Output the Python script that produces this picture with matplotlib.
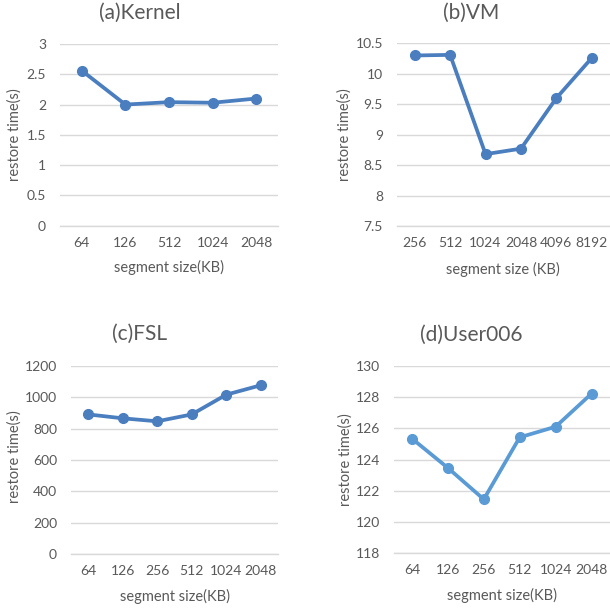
import matplotlib.pyplot as plt

# === DATA ===
kernel_sizes = ["64", "126", "512", "1024", "2048"]
kernel_times = [2.56, 2.00, 2.04, 2.03, 2.10]

vm_sizes = ["256", "512", "1024", "2048", "4096", "8192"]
vm_times = [10.30, 10.31, 8.68, 8.77, 9.60, 10.26]

fsl_sizes = ["64", "126", "256", "512", "1024", "2048"]
fsl_times = [891, 866, 847, 891, 1017, 1077]

user_sizes = ["64", "126", "256", "512", "1024", "2048"]
user_times = [125.35, 123.47, 121.46, 125.43, 126.11, 128.23]

plt.rcParams['font.family'] = ['Lato', 'DejaVu Sans']

W, H = 610, 609
fig = plt.figure(figsize=(W / 100, H / 100), dpi=100)

TXT = "#595959"
GRID = "#d9d9d9"

# pixel boxes: left, right, top, bottom of the plot area
panels = [
    dict(box=(60, 278, 44, 225.7), sizes=kernel_sizes, vals=kernel_times, ylim=(0, 3), step=0.5,
         color="#4a7ebf", title="(a)Kernel", tpos=(140, 13), xlab="segment size(KB)", xly=267, yl=(15, 135)),
    dict(box=(397, 609.5, 43.3, 226), sizes=vm_sizes, vals=vm_times, ylim=(7.5, 10.5), step=0.5,
         color="#4a7ebf", title="(b)VM", tpos=(471, 13), xlab="segment size (KB)", xly=269, yl=(345, 135)),
    dict(box=(71, 278, 366, 554), sizes=fsl_sizes, vals=fsl_times, ylim=(0, 1200), step=200,
         color="#4a7ebf", title="(c)FSL", tpos=(140, 334), xlab="segment size(KB)", xly=596, yl=(15, 457)),
    dict(box=(394, 609.5, 366, 553.3), sizes=user_sizes, vals=user_times, ylim=(118, 130), step=2,
         color="#5b9bd5", title="(d)User006", tpos=(471, 335), xlab="segment size(KB)", xly=595, yl=(346, 460)),
]

for p in panels:
    l, r, t, b = p["box"]
    ax = fig.add_axes([l / W, 1 - b / H, (r - l) / W, (b - t) / H])
    x = range(len(p["sizes"]))
    ax.plot(x, p["vals"], color=p["color"], lw=2.7, marker="o", ms=7, zorder=3, clip_on=False)
    ax.set_xlim(-0.5, len(p["sizes"]) - 0.5)
    lo, hi = p["ylim"]
    ax.set_ylim(lo, hi)
    ticks = []
    v = lo
    while v <= hi + 1e-9:
        ticks.append(v)
        v += p["step"]
    ax.set_yticks(ticks)
    ax.set_yticklabels([f"{tv:g}" for tv in ticks])
    ax.set_xticks(list(x))
    ax.set_xticklabels(p["sizes"])
    for s in ["top", "right", "left"]:
        ax.spines[s].set_visible(False)
    ax.spines["bottom"].set_color(GRID)
    ax.spines["bottom"].set_linewidth(1.0)
    ax.grid(axis="y", color=GRID, lw=1.0, zorder=0)
    ax.set_axisbelow(True)
    ax.tick_params(length=0, labelsize=10, colors=TXT, pad=8)
    ax.tick_params(axis="y", pad=10)
    fig.text(p["tpos"][0] / W, 1 - p["tpos"][1] / H, p["title"], ha="center", va="center",
             fontsize=15, color=TXT)
    fig.text((l + r) / 2 / W, 1 - p["xly"] / H, p["xlab"], ha="center", va="center",
             fontsize=10.5, color=TXT)
    fig.text(p["yl"][0] / W, 1 - p["yl"][1] / H, "restore time(s)", ha="center", va="center",
             rotation=90, fontsize=10.5, color=TXT)

fig.savefig("out.png", dpi=100)
